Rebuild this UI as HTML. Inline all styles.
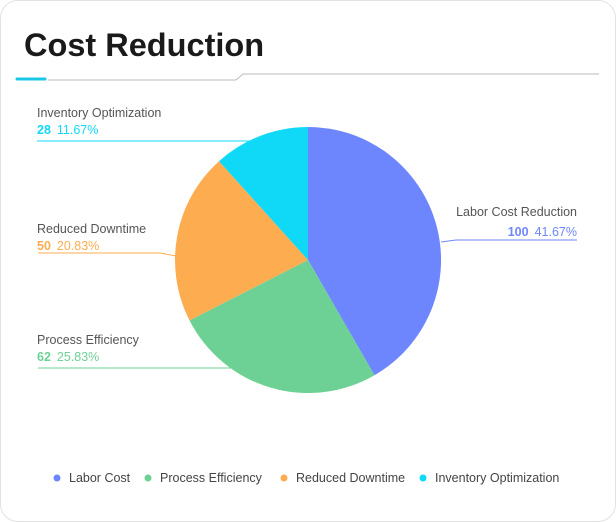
<!DOCTYPE html>
<html><head><meta charset="utf-8"><style>
body{margin:0;background:#fff;font-family:"Liberation Sans",sans-serif;}
.card{position:absolute;left:0;top:0;width:614px;height:520px;border:1px solid #e2e2e2;border-radius:18px;}
</style></head><body>
<div class="card"></div>
<svg width="616" height="522" style="position:absolute;left:0;top:0" font-family="Liberation Sans, sans-serif">
<text x="24" y="56" font-size="32.5" font-weight="bold" fill="#1a1a1a">Cost Reduction</text>
<line x1="17" y1="79" x2="45" y2="79" stroke="#19c8e8" stroke-width="3" stroke-linecap="round"/>
<polyline points="48,80 236,80 243,74 599,74" fill="none" stroke="#bbb" stroke-width="1"/>
<path d="M308,260 L308,127 A133,133 0 0 1 374.5,375.2 Z" fill="#6e86fd"/>
<path d="M308,260 L374.5,375.2 A133,133 0 0 1 189.5,320.4 Z" fill="#6dd195"/>
<path d="M308,260 L189.5,320.4 A133,133 0 0 1 219,161.2 Z" fill="#fdac4f"/>
<path d="M308,260 L219,161.2 A133,133 0 0 1 308,127 Z" fill="#0fd9f7"/>
<polyline points="37,141 262,141" fill="none" stroke="#0fd9f7"/>
<polyline points="38,253 160,253 176,256" fill="none" stroke="#fdac4f"/>
<polyline points="38,368 232,368" fill="none" stroke="#6dd195"/>
<polyline points="441,242 456,240 577,240" fill="none" stroke="#6e86fd"/>
<g font-size="12.5" fill="#555">
<text x="37" y="117">Inventory Optimization</text>
<text x="37" y="233">Reduced Downtime</text>
<text x="37" y="344">Process Efficiency</text>
<text x="577" y="216" text-anchor="end">Labor Cost Reduction</text>
</g>
<g font-size="12.5">
<text x="37" y="134" fill="#0fd9f7"><tspan font-weight="bold">28</tspan><tspan dx="6">11.67%</tspan></text>
<text x="37" y="250" fill="#fdac4f"><tspan font-weight="bold">50</tspan><tspan dx="6">20.83%</tspan></text>
<text x="37" y="361" fill="#6dd195"><tspan font-weight="bold">62</tspan><tspan dx="6">25.83%</tspan></text>
<text x="577" y="236" fill="#6e86fd" text-anchor="end"><tspan font-weight="bold">100</tspan><tspan dx="6">41.67%</tspan></text>
</g>
<g font-size="12.5" fill="#444">
<circle cx="57" cy="478" r="3.5" fill="#6e86fd"/><text x="69" y="482">Labor Cost</text>
<circle cx="148" cy="478" r="3.5" fill="#6dd195"/><text x="160" y="482">Process Efficiency</text>
<circle cx="284" cy="478" r="3.5" fill="#fdac4f"/><text x="296" y="482">Reduced Downtime</text>
<circle cx="423" cy="478" r="3.5" fill="#0fd9f7"/><text x="435" y="482">Inventory Optimization</text>
</g>
</svg>
</body></html>
